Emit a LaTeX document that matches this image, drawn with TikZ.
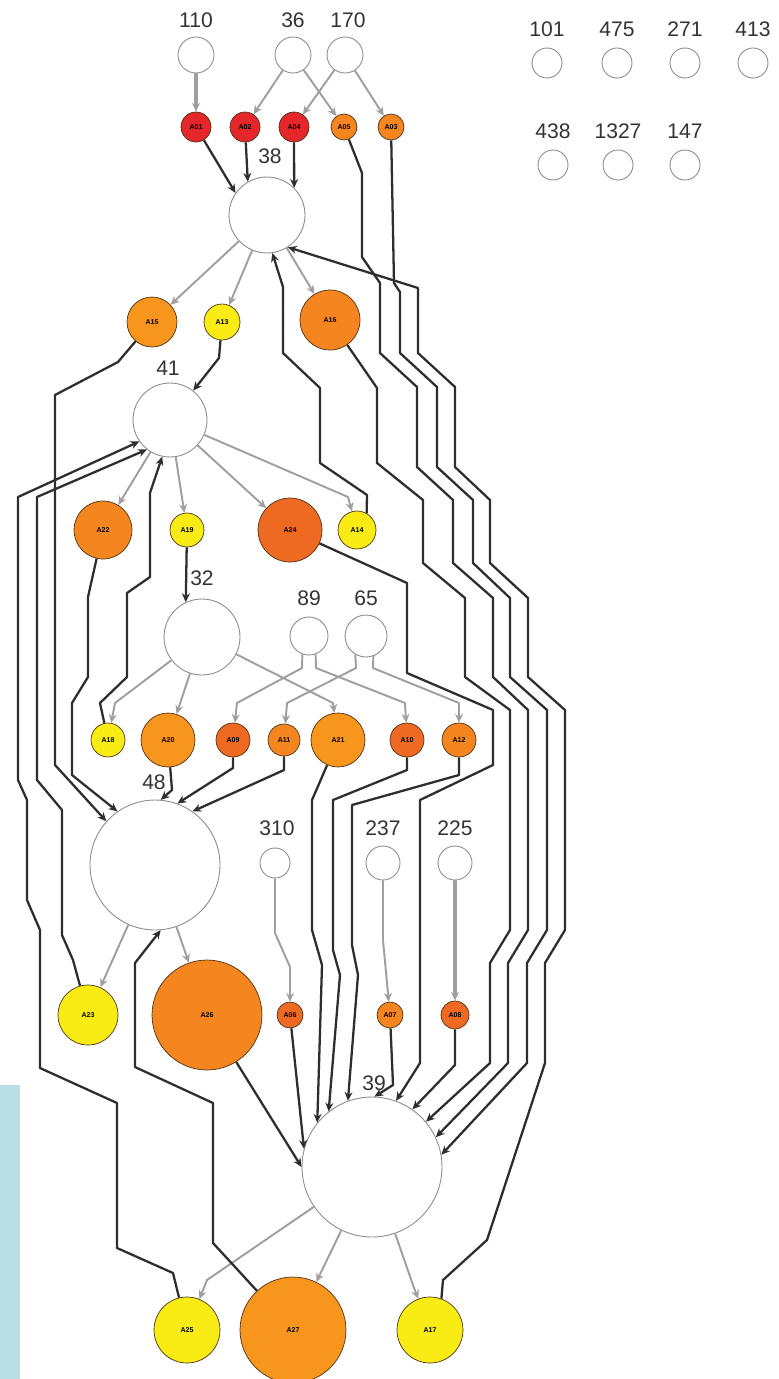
\documentclass[tikz,border=0pt]{standalone}
\usepackage{fontspec}
\setmainfont{Liberation Sans}
\usetikzlibrary{arrows.meta}
\definecolor{hubline}{HTML}{8C8C8C}
\definecolor{edgegray}{HTML}{A29D9F}
\definecolor{edgedark}{HTML}{2E2E2E}
\definecolor{cred}{HTML}{E5262A}
\definecolor{cdeep}{HTML}{EE6A22}
\definecolor{corange}{HTML}{F5861F}
\definecolor{clight}{HTML}{F7951D}
\definecolor{cyellow}{HTML}{F8EC14}
\definecolor{sidebar}{HTML}{B9DEE3}
\tikzset{
  every picture/.style={line join=round, >={Stealth[length=5pt,width=4.5pt]}},
  hub/.style={circle, draw=hubline, line width=0.5pt, fill=white, inner sep=0pt, minimum size=#1*0.4mm},
  comp/.style={circle, draw=black!60!brown, line width=0.4pt, inner sep=0pt, minimum size=#1*0.4mm, font=\fontsize{4}{4}\selectfont\bfseries},
  num/.style={inner sep=0pt, font=\fontsize{12}{14}\selectfont, text=black!80},
  gr/.style={->, draw=edgegray, line width=1.1pt},
  grthick/.style={->, draw=edgegray, line width=2.6pt},
  dk/.style={->, draw=edgedark, line width=1.3pt},
}

\begin{document}
\begin{tikzpicture}[x=0.02cm,y=-0.02cm]
\useasboundingbox (0,0) rectangle (778,1379);
\fill[sidebar] (0,1085) rectangle (20,1379);

\node[hub=18] (n110) at (196,55) {};
\node[hub=18] (n36) at (293,55) {};
\node[hub=18] (n170) at (345,55) {};
\node[num] (l110) at (196,20) {110};
\node[num] (l36) at (293,20) {36};
\node[num] (l170) at (348,20) {170};
\foreach \v/\x/\y in {101/547/63, 475/617/63, 271/685/63, 413/753/63, 438/553/165, 1327/618/165, 147/685/165}{
  \node[hub=15] (n\v) at (\x,\y) {};
  \node[num] (l\v) at (\x,\y-34) {\v};
}

\node[comp=15,fill=cred] (A01) at (196,127) {A01};
\node[comp=15,fill=cred] (A02) at (245,127) {A02};
\node[comp=15,fill=cred] (A04) at (294,127) {A04};
\node[comp=13,fill=corange] (A05) at (344,127) {A05};
\node[comp=13,fill=corange] (A03) at (391,127) {A03};

\node[hub=38] (n38) at (267,215) {};
\node[num] (l38) at (270,156) {38};

\node[comp=25,fill=clight] (A15) at (152,322) {A15};
\node[comp=18,fill=cyellow] (A13) at (222,322) {A13};
\node[comp=30,fill=corange] (A16) at (330,320) {A16};

\node[hub=37] (n41) at (170,420) {};
\node[num] (l41) at (168,368) {41};

\node[comp=29,fill=corange] (A22) at (103,530) {A22};
\node[comp=17,fill=cyellow] (A19) at (187,530) {A19};
\node[comp=32,fill=cdeep] (A24) at (290,530) {A24};
\node[comp=19,fill=cyellow] (A14) at (357,530) {A14};

\node[hub=38] (n32) at (202,637) {};
\node[num] (l32) at (202,578) {32};
\node[hub=19] (n89) at (309,636) {};
\node[num] (l89) at (309,598) {89};
\node[hub=21] (n65) at (366,636) {};
\node[num] (l65) at (366,598) {65};

\node[comp=17,fill=cyellow] (A18) at (108,740) {A18};
\node[comp=27,fill=clight] (A20) at (168,740) {A20};
\node[comp=17,fill=cdeep] (A09) at (233,740) {A09};
\node[comp=16,fill=corange] (A11) at (284,740) {A11};
\node[comp=27,fill=clight] (A21) at (338,740) {A21};
\node[comp=17,fill=cdeep] (A10) at (407,740) {A10};
\node[comp=17,fill=corange] (A12) at (459,740) {A12};

\node[hub=65] (n48) at (155,865) {};
\node[num] (l48) at (154,782) {48};
\node[hub=15] (n310) at (275,863) {};
\node[num] (l310) at (277,828) {310};
\node[hub=17] (n237) at (383,863) {};
\node[num] (l237) at (383,828) {237};
\node[hub=17] (n225) at (455,863) {};
\node[num] (l225) at (455,828) {225};

\node[comp=30,fill=cyellow] (A23) at (88,1015) {A23};
\node[comp=55,fill=corange] (A26) at (207,1015) {A26};
\node[comp=13,fill=cdeep] (A06) at (290,1015) {A06};
\node[comp=13,fill=corange] (A07) at (390,1015) {A07};
\node[comp=14,fill=cdeep] (A08) at (455,1015) {A08};

\node[hub=70] (n39) at (372,1167) {};
\node[num] (l39) at (374,1083) {39};

\node[comp=33,fill=cyellow] (A25) at (187,1330) {A25};
\node[comp=53,fill=clight] (A27) at (293,1330) {A27};
\node[comp=33,fill=cyellow] (A17) at (430,1330) {A17};

\draw[grthick] (n110) -- (A01);
\draw[gr] (n36) -- (A02);
\draw[gr] (n36) -- (A05);
\draw[gr] (n170) -- (A04);
\draw[gr] (n170) -- (A03);
\draw[gr] (n38) -- (A15);
\draw[gr] (n38) -- (A13);
\draw[gr] (n38) -- (A16);
\draw[gr] (n41) -- (A22);
\draw[gr] (n41) -- (A19);
\draw[gr] (n41) -- (A24);
\draw[gr] (n41) -- (348,497) -- (A14);
\draw[gr] (n32) -- (115,703) -- (A18);
\draw[gr] (n32) -- (A20);
\draw[gr] (n32) -- (333,703) -- (A21);
\draw[gr] (n89.250) -- (302,668) -- (237,703) -- (A09);
\draw[gr] (n89.290) -- (316,668) -- (405,703) -- (A10);
\draw[gr] (n65.240) -- (356,668) -- (287,703) -- (A11);
\draw[gr] (n65.290) -- (373,668) -- (459,703) -- (A12);
\draw[gr] (n48) -- (A23);
\draw[gr] (n48) -- (A26);
\draw[gr] (n310) -- (275,933) -- (290,967) -- (A06);
\draw[gr] (n237) -- (383,940) -- (A07);
\draw[grthick] (n225) -- (A08);
\draw[gr] (n39) -- (207,1280) -- (A25);
\draw[gr] (n39) -- (A27);
\draw[gr] (n39) -- (413,1285) -- (A17);

\draw[dk] (A01) -- (n38.145);
\draw[dk] (A02) -- (n38.120);
\draw[dk] (A04) -- (n38.45);
\draw[dk] (A13) -- (219,358) -- (n41);
\draw[dk] (A19) -- (n32.115);
\draw[dk] (A20) -- (172,790) -- (n48.85);
\draw[dk] (A09) -- (233,768) -- (n48.70);
\draw[dk] (A11) -- (284,770) -- (n48.55);
\draw[dk] (A22) -- (88,597) -- (88,677) -- (72,703) -- (72,775) -- (n48.125);
\draw[dk] (A15) -- (118,362) -- (55,395) -- (55,765) -- (n48.138);
\draw[dk] (A18) -- (100,703) -- (127,677) -- (127,593) -- (150,577) -- (150,493) -- (n41.258);
\draw[dk] (A23) -- (73,960) -- (62,935) -- (62,810) -- (37,780) -- (37,497) -- (n41.232);
\draw[dk] (A25) -- (173,1273) -- (117,1248) -- (117,1103) -- (40,1068) -- (40,930) -- (27,900) -- (27,800) -- (18,780) -- (18,497) -- (n41.215);
\draw[dk] (A27) -- (213,1243) -- (213,1103) -- (135,1067) -- (135,963) -- (n48.-85);
\draw[dk] (A14.60) -- (367,495) -- (320,463) -- (320,388) -- (283,353) -- (283,287) -- (n38.278);
\draw[dk] (A26) -- (n39.180);
\draw[dk] (A06) -- (n39.165);
\draw[dk] (A21) -- (312,800) -- (312,930) -- (322,965) -- (n39.141);
\draw[dk] (A10) -- (407,770) -- (333,800) -- (333,950) -- (340,975) -- (n39.128);
\draw[dk] (A12) -- (459,775) -- (352,805) -- (352,945) -- (358,975) -- (n39.110);
\draw[dk] (A07) -- (393,1085) -- (n39.88);
\draw[dk] (A08) -- (455,1065) -- (n39.55);
\draw[dk] (A24) -- (407,583) -- (407,673) -- (493,710) -- (493,765) -- (420,800) -- (420,1063) -- (n39.70);
\draw[dk] (A16) -- (377,388) -- (377,463) -- (423,500) -- (423,563) -- (465,598) -- (465,677) -- (510,710) -- (510,930) -- (490,963) -- (490,1063) -- (n39.40);
\draw[dk] (A05) -- (362,173) -- (362,257) -- (380,283) -- (380,353) -- (417,387) -- (417,467) -- (453,500) -- (453,563) -- (493,598) -- (493,677) -- (528,710) -- (528,930) -- (508,963) -- (508,1063) -- (n39.25);
\draw[dk] (A03) -- (394,283) -- (400,292) -- (400,353) -- (437,387) -- (437,467) -- (473,500) -- (473,563) -- (510,598) -- (510,677) -- (547,710) -- (547,930) -- (527,963) -- (527,1063) -- (n39.10);
\draw[dk] (A17.70) -- (443,1280) -- (487,1240) -- (545,1063) -- (545,963) -- (565,930) -- (565,710) -- (528,677) -- (528,598) -- (490,563) -- (490,500) -- (455,467) -- (455,387) -- (418,353) -- (418,288) -- (n38.303);
\end{tikzpicture}
\end{document}
